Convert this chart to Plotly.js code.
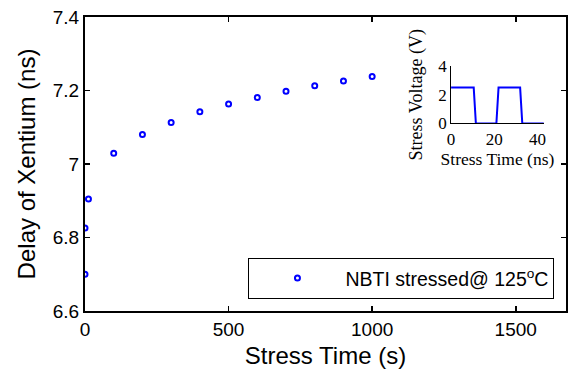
<!DOCTYPE html>
<html>
<head>
<meta charset="utf-8">
<script src="https://cdn.plot.ly/plotly-3.0.1.min.js"></script>
<style>html,body{margin:0;padding:0;background:#fff;}#chart{width:571px;height:371px;}</style>
</head>
<body>
<div id="chart"></div>
<script>
// Main series: NBTI stress
const stressTime = [0, 0, 12, 100, 200, 300, 400, 500, 600, 700, 800, 900, 1000];
const delay = [6.700, 6.826, 6.905, 7.029, 7.080, 7.113, 7.142, 7.163, 7.181, 7.198, 7.213, 7.226, 7.238];
const seriesName = 'NBTI stressed@ 125<sup>o</sup>C';

// Inset: stress voltage waveform
const insetTime = [0, 10.5, 11.5, 21, 22, 32, 33, 43];
const insetVoltage = [2.5, 2.5, 0, 0, 2.5, 2.5, 0, 0];

const xTicks = [0, 500, 1000, 1500];
const yTicks = [6.6, 6.8, 7.0, 7.2, 7.4];
const yTickLabels = ['6.6', '6.8', '7', '7.2', '7.4'];
const insetXTicks = [0, 20, 40];
const insetYTicks = [0, 2, 4];

const traces = [
  {
    x: stressTime, y: delay, type: 'scatter', mode: 'markers', name: seriesName,
    marker: {symbol: 'circle-open', size: 5, color: '#0000ff', line: {width: 2, color: '#0000ff'}},
    xaxis: 'x', yaxis: 'y', showlegend: true
  },
  {
    x: insetTime, y: insetVoltage, type: 'scatter', mode: 'lines',
    line: {color: '#0000ff', width: 2}, xaxis: 'x2', yaxis: 'y2', showlegend: false
  }
];

const mainFont = {family: 'Liberation Sans, Arial, sans-serif', color: '#000'};
const serif = {family: 'Liberation Serif, Times New Roman, serif', color: '#000'};

const layout = {
  width: 571, height: 371,
  margin: {l: 85, r: 5, t: 17, b: 60},
  paper_bgcolor: '#fff', plot_bgcolor: '#fff',
  showlegend: true,
  xaxis: {
    domain: [0, 1], range: [0, 1675], tickvals: xTicks, ticktext: xTicks.map(String),
    ticks: 'inside', ticklen: 5, tickwidth: 1.5, tickcolor: '#000',
    showline: true, linecolor: '#000', linewidth: 2, mirror: 'ticks',
    showgrid: false, zeroline: false,
    tickfont: Object.assign({size: 19}, mainFont),
    title: {text: 'Stress Time (s)', font: Object.assign({size: 24}, mainFont), standoff: 8}
  },
  yaxis: {
    domain: [0, 1], range: [6.6, 7.4], tickvals: yTicks, ticktext: yTickLabels,
    ticks: 'inside', ticklen: 5, tickwidth: 1.5, tickcolor: '#000',
    showline: true, linecolor: '#000', linewidth: 2, mirror: 'ticks',
    showgrid: false, zeroline: false,
    tickfont: Object.assign({size: 19}, mainFont),
    title: {text: 'Delay of Xentium (ns)', font: Object.assign({size: 24}, mainFont), standoff: 10}
  },
  xaxis2: {
    domain: [0.761, 0.954], range: [0, 43], anchor: 'y2',
    tickvals: insetXTicks, ticks: '', 
    showline: true, linecolor: '#000', linewidth: 1, mirror: false,
    showgrid: false, zeroline: false,
    tickfont: Object.assign({size: 17}, serif),
    title: {text: 'Stress Time (ns)', font: Object.assign({size: 17.5}, serif), standoff: 3}
  },
  yaxis2: {
    domain: [0.638, 0.833], range: [0, 4], anchor: 'x2',
    tickvals: insetYTicks, ticks: '',
    showline: true, linecolor: '#000', linewidth: 1, mirror: false,
    showgrid: false, zeroline: false,
    tickfont: Object.assign({size: 17}, serif),
    title: {text: 'Stress Voltage (V)', font: Object.assign({size: 18}, serif), standoff: 10}
  },
  legend: {
    x: 0.976, xanchor: 'right', y: 0.041, yanchor: 'bottom',
    bgcolor: '#fff', bordercolor: '#000', borderwidth: 1,
    itemwidth: 86,
    font: Object.assign({size: 19.5}, mainFont)
  }
};

Plotly.newPlot('chart', traces, layout, {displayModeBar: false, staticPlot: true});
</script>
</body>
</html>
